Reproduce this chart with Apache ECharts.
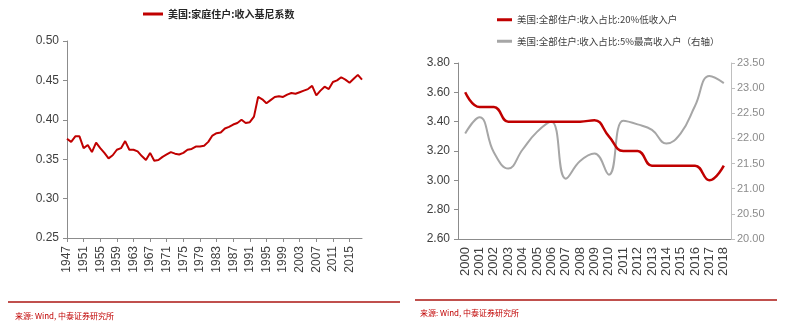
<!DOCTYPE html>
<html><head><meta charset="utf-8">
<script src="https://cdn.jsdelivr.net/npm/echarts@6/dist/echarts.min.js"></script>
<style>html,body{margin:0;padding:0;background:#fff}#c{width:785px;height:327px}</style>
</head><body><div id="c"></div>
<script>
// Left chart: US household income Gini 1947-2018
const giniYears = [];
for (let y = 1947; y <= 2018; y++) giniYears.push(String(y));
const giniValues = [
  0.376,0.372,0.379,0.379,0.364,0.368,0.359,0.371,0.364,0.358,
  0.351,0.355,0.362,0.364,0.373,0.362,0.362,0.360,0.354,0.349,
  0.358,0.348,0.349,0.353,0.356,0.359,0.357,0.356,0.358,0.362,
  0.363,0.366,0.366,0.367,0.372,0.380,0.383,0.384,0.389,0.391,
  0.394,0.396,0.400,0.396,0.397,0.404,0.429,0.426,0.421,0.425,
  0.429,0.430,0.429,0.432,0.434,0.433,0.435,0.437,0.439,0.443,
  0.431,0.437,0.442,0.439,0.448,0.450,0.454,0.451,0.447,0.452,
  0.457,0.451
];
const giniName = '美国:家庭住户:收入基尼系数';

// Right chart: income shares 2000-2018
const shareYears = ['2000','2001','2002','2003','2004','2005','2006','2007','2008','2009',
  '2010','2011','2012','2013','2014','2015','2016','2017','2018'];
const lowShare = [3.60,3.50,3.50,3.40,3.40,3.40,3.40,3.40,3.40,3.41,
  3.30,3.20,3.20,3.10,3.10,3.10,3.10,3.00,3.10];
const topShare = [22.10,22.42,21.72,21.40,21.78,22.13,22.33,21.20,21.55,21.70,
  21.28,22.35,22.28,22.17,21.90,22.10,22.65,23.24,23.10];
const lowName = '美国:全部住户:收入占比:20%低收入户';
const topName = '美国:全部住户:收入占比:5%最高收入户（右轴）';
const sourceText = '来源: Wind, 中泰证券研究所';

const RED = '#C00000', GRAY = '#A6A6A6', AX = '#8C8C8C', TXT = '#404040';
const NARROW = '"Liberation Sans Narrow","Liberation Sans",Arial,sans-serif';
const CJK = '"Noto Sans CJK SC","Noto Sans",sans-serif';

const chart = echarts.init(document.getElementById('c'), null, {renderer:'canvas'});
chart.setOption({
  animation: false,
  backgroundColor: '#fff',
  legend: [
    {data:[giniName], left:138, top:4, itemWidth:20, itemHeight:3, icon:'rect',
     textStyle:{fontFamily:CJK, fontSize:10, fontWeight:'bold', color:'#262626'}},
    {data:[lowName, topName], orient:'vertical', left:492, top:10, itemGap:12,
     itemWidth:15, itemHeight:3, icon:'rect',
     textStyle:{fontFamily:CJK, fontSize:9.5, color:'#404040'}}
  ],
  grid: [
    {left:67, top:41, width:295, height:197},
    {left:458, top:63, width:273, height:176}
  ],
  xAxis: [
    {type:'category', gridIndex:0, data:giniYears, boundaryGap:false,
     axisLine:{lineStyle:{color:AX}},
     axisTick:{interval:3, length:4, lineStyle:{color:AX}},
     axisLabel:{interval:3, rotate:90, fontSize:12, color:TXT, margin:8,
       fontFamily:'"Liberation Sans",Arial,sans-serif'}},
    {type:'category', gridIndex:1, data:shareYears, boundaryGap:true,
     axisLine:{lineStyle:{color:AX}},
     axisTick:{length:4, lineStyle:{color:AX}},
     axisLabel:{interval:0, rotate:90, fontSize:13, color:TXT, margin:8,
       fontFamily:'"Liberation Sans",Arial,sans-serif'}}
  ],
  yAxis: [
    {type:'value', gridIndex:0, min:0.25, max:0.5, interval:0.05,
     axisLine:{show:true, lineStyle:{color:AX}},
     axisTick:{show:true, length:4, lineStyle:{color:AX}},
     splitLine:{show:false},
     axisLabel:{formatter:v=>v.toFixed(2), fontSize:12, color:TXT, margin:8, fontFamily:NARROW}},
    {type:'value', gridIndex:1, min:2.6, max:3.8, interval:0.2,
     axisLine:{show:true, lineStyle:{color:AX}},
     axisTick:{show:true, length:4, lineStyle:{color:AX}},
     splitLine:{show:false},
     axisLabel:{formatter:v=>v.toFixed(2), fontSize:12, color:TXT, margin:8, fontFamily:NARROW}},
    {type:'value', gridIndex:1, position:'right', min:20, max:23.5, interval:0.5,
     axisLine:{show:true, lineStyle:{color:'#BFBFBF'}},
     axisTick:{show:true, length:4, lineStyle:{color:'#BFBFBF'}},
     splitLine:{show:false},
     axisLabel:{formatter:v=>v.toFixed(2), fontSize:11, color:'#8C8C8C', margin:6, fontFamily:NARROW}}
  ],
  series: [
    {name:giniName, type:'line', xAxisIndex:0, yAxisIndex:0, data:giniValues,
     symbol:'none', color:RED, lineStyle:{width:2, color:RED}},
    {name:lowName, type:'line', xAxisIndex:1, yAxisIndex:1, data:lowShare,
     symbol:'none', smooth:0.45, color:RED, lineStyle:{width:2.5, color:RED}, z:3},
    {name:topName, type:'line', xAxisIndex:1, yAxisIndex:2, data:topShare,
     symbol:'none', smooth:0.45, color:GRAY, lineStyle:{width:2, color:GRAY}, z:2}
  ],
  graphic: [
    {type:'line', shape:{x1:8, y1:302, x2:400, y2:302}, style:{stroke:'#C0504D', lineWidth:2}},
    {type:'line', shape:{x1:415, y1:300, x2:777, y2:300}, style:{stroke:'#C0504D', lineWidth:2}},
    {type:'text', left:15, top:312, style:{text:sourceText, fill:RED, font:'8px "Noto Sans CJK SC", sans-serif'}},
    {type:'text', left:420, top:309, style:{text:sourceText, fill:RED, font:'8px "Noto Sans CJK SC", sans-serif'}}
  ]
});
</script></body></html>
